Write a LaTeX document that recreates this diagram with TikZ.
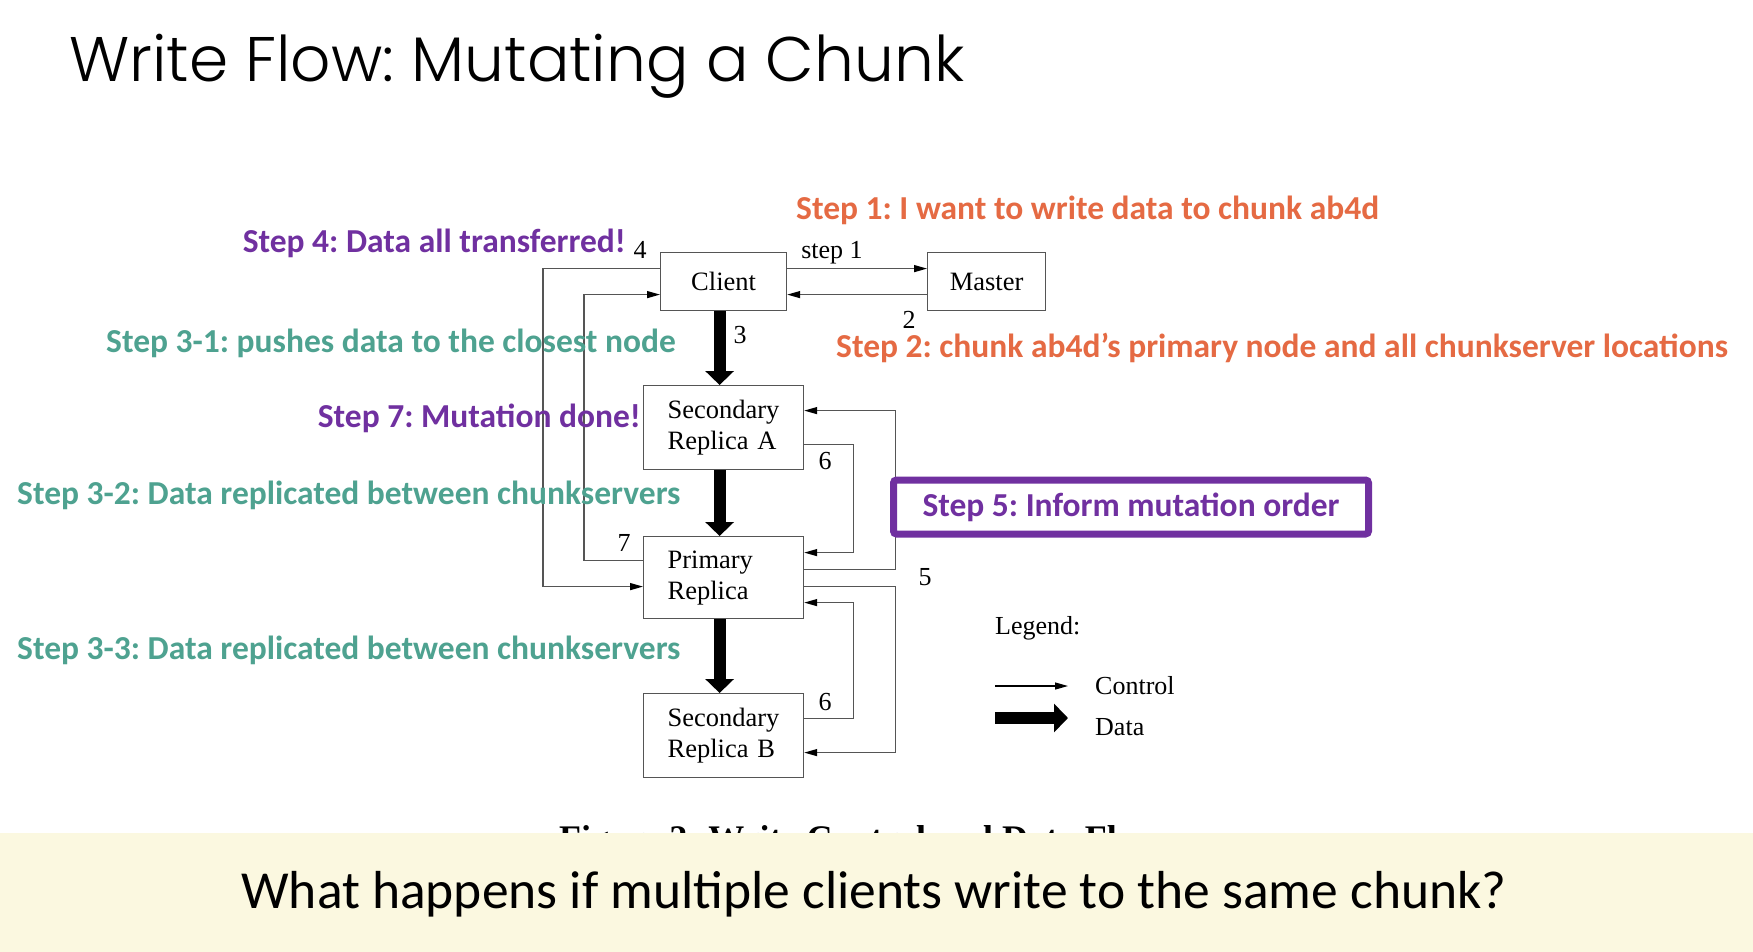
\documentclass[tikz,border=0pt]{standalone}
\usepackage{fontspec}
\setmainfont{Liberation Serif}
\newfontfamily\notefont{Carlito}
\newfontfamily\titlefont{Poppins Light}
\usetikzlibrary{arrows.meta}

\definecolor{noteorange}{HTML}{E56A43}
\definecolor{notepurple}{HTML}{7030A0}
\definecolor{noteteal}{HTML}{4EA290}
\definecolor{bannercream}{HTML}{FBF8E0}
\definecolor{wire}{HTML}{555555}

\frenchspacing
\begin{document}
\begin{tikzpicture}[x=1pt,y=-1pt,
  box/.style={draw=wire, line width=1.2pt, fill=white, inner sep=0pt,
    font=\fontsize{26.5}{31}\selectfont},
  stackbox/.style={box, align=left, text width=112pt, minimum width=160pt},
  ctrl/.style={draw=wire, line width=1.3pt,
    -{Triangle[length=13pt,width=7pt,color=black]}},
  data/.style={draw=black, line width=12pt,
    -{Triangle[length=14pt,width=28pt]}},
  num/.style={inner sep=0pt, font=\fontsize{26}{30}\selectfont},
  note/.style={inner sep=0pt, font=\notefont\bfseries\fontsize{33.5}{40}\selectfont},
]
\useasboundingbox (0,0) rectangle (1753,952);
\fill[white] (0,0) rectangle (1753,952);

% title
\node[anchor=base west, inner sep=0pt, font=\titlefont\fontsize{63}{74}\selectfont]
  (title) at (69,82) {Write Flow: Mutating a Chunk};

% boxes
\node[box, anchor=north west, minimum width=126pt, minimum height=58pt]
  (client) at (660,252) {Client};
\node[box, anchor=north west, minimum width=118pt, minimum height=58pt]
  (master) at (927,252) {Master};
\node[stackbox, anchor=north west, minimum height=84pt]
  (seca) at (643,385) {Secondary\\Replica A};
\node[stackbox, anchor=north west, minimum height=82pt]
  (prim) at (643,536) {Primary\\Replica};
\node[stackbox, anchor=north west, minimum height=84pt]
  (secb) at (643,693) {Secondary\\Replica B};

% control flow
\draw[ctrl] ([yshift=13pt]client.east) -- ([yshift=13pt]master.west);
\draw[ctrl] ([yshift=-13pt]master.west) -- ([yshift=-13pt]client.east);
\draw[ctrl] ([yshift=13pt]client.west) -- ++(-117,0) |- ([yshift=-9pt]prim.west);
\draw[ctrl] ([yshift=17pt]prim.west) -- ++(-59,0) |- ([yshift=-13pt]client.west);
\draw[ctrl] ([yshift=-17pt]seca.east) -- ++(49,0) |- ([yshift=25pt]prim.east);
\draw[ctrl] ([yshift=8pt]prim.east) -- ++(91,0) |- ([yshift=17pt]seca.east);
\draw[ctrl] ([yshift=-9pt]prim.east) -- ++(91,0) |- ([yshift=-17pt]secb.east);
\draw[ctrl] ([yshift=17pt]secb.east) -- ++(49,0) |- ([yshift=-25pt]prim.east);

% data flow
\draw[data] ([xshift=-4pt]client.south) -- ([xshift=-4pt]seca.north);
\draw[data] ([xshift=-4pt]seca.south) -- ([xshift=-4pt]prim.north);
\draw[data] ([xshift=-4pt]prim.south) -- ([xshift=-4pt]secb.north);

% step numbers
\node[num] (s1) at (832,253) {step 1};
\node[num] (n2) at (909,320) {2};
\node[num] (n3) at (740,335) {3};
\node[num] (n4) at (640,250) {4};
\node[num] (n6a) at (825,461) {6};
\node[num] (n7) at (624,543) {7};
\node[num] (n5) at (925,577) {5};
\node[num] (n6b) at (825,702) {6};

% legend
\node[num, anchor=west] (legend) at (995,628) {Legend:};
\coordinate (lc1) at (995,686);
\coordinate (lc2) at (1068,686);
\coordinate (ld1) at (995,718);
\coordinate (ld2) at (1068,718);
\draw[draw=black, line width=1.2pt, -{Triangle[length=13pt,width=7pt]}] (lc1) -- (lc2);
\draw[data] (ld1) -- (ld2);
\node[num, anchor=west] (lctrl) at (1095,686) {Control};
\node[num, anchor=west] (ldata) at (1095,727) {Data};

% annotations
\node[note, text=noteorange, anchor=west] (a1) at (796,210) {Step 1: I want to write data to chunk ab4d};
\node[note, text=noteorange, anchor=west] (a2) at (836,348) {Step 2: chunk ab4d’s primary node and all chunkserver locations};
\node[note, text=notepurple, anchor=east] (a4) at (626,243) {Step 4: Data all transferred!};
\node[note, text=noteteal, anchor=east] (a31) at (676,343) {Step 3-1: pushes data to the closest node};
\node[note, text=notepurple, anchor=east] (a7) at (641,418) {Step 7: Mutation done!};
\node[note, text=noteteal, anchor=west] (a32) at (17,495) {Step 3-2: Data replicated between chunkservers};
\node[note, text=noteteal, anchor=west] (a33) at (17,650) {Step 3-3: Data replicated between chunkservers};
\node[note, text=notepurple, draw=notepurple, line width=7pt, rounded corners=3pt,
  fill=white, minimum width=475pt, minimum height=54pt] (a5) at (1131,507) {Step 5: Inform mutation order};

% caption, partly covered by the banner
\node[anchor=base, inner sep=0pt, font=\bfseries\fontsize{36}{42}\selectfont]
  (caption) at (860,850) {Figure 2: Write Control and Data Flow};

% question banner
\fill[bannercream] (0,833) rectangle (1753,952);
\node[inner sep=0pt, font=\notefont\fontsize{53.5}{64}\selectfont]
  (question) at (874,894) {What happens if multiple clients write to the same chunk?};
\end{tikzpicture}
\end{document}
